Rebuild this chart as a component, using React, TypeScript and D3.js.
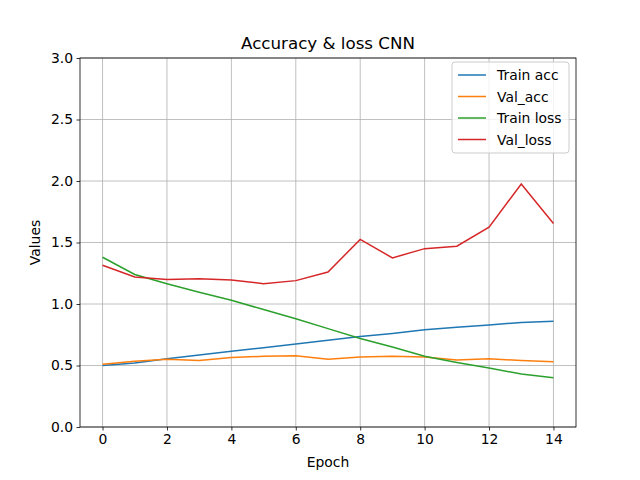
import React, { useEffect, useRef } from 'react';
import * as d3 from 'd3';

const epochs = [0, 1, 2, 3, 4, 5, 6, 7, 8, 9, 10, 11, 12, 13, 14];
const trainAcc = [0.50, 0.52, 0.555, 0.585, 0.615, 0.645, 0.675, 0.705, 0.735, 0.76, 0.79, 0.81, 0.83, 0.85, 0.86];
const valAcc = [0.51, 0.535, 0.55, 0.54, 0.565, 0.575, 0.58, 0.55, 0.57, 0.575, 0.57, 0.545, 0.555, 0.54, 0.53];
const trainLoss = [1.38, 1.24, 1.165, 1.095, 1.03, 0.955, 0.88, 0.80, 0.72, 0.65, 0.575, 0.525, 0.48, 0.43, 0.40];
const valLoss = [1.315, 1.22, 1.20, 1.205, 1.195, 1.165, 1.19, 1.26, 1.525, 1.375, 1.45, 1.47, 1.625, 1.975, 1.655];
const xTicks = [0, 2, 4, 6, 8, 10, 12, 14];
const yTicks = [0, 0.5, 1, 1.5, 2, 2.5, 3];

const series = [
  { name: 'Train acc', values: trainAcc, color: '#1f77b4' },
  { name: 'Val_acc', values: valAcc, color: '#ff7f0e' },
  { name: 'Train loss', values: trainLoss, color: '#2ca02c' },
  { name: 'Val_loss', values: valLoss, color: '#d62728' },
];

const App: React.FC = () => {
  const ref = useRef<SVGSVGElement | null>(null);

  useEffect(() => {
    document.body.style.margin = '0';
    const svg = d3.select(ref.current);
    svg.selectAll('*').remove();
    const font = 'DejaVu Sans';
    const left = 80, right = 576, top = 58, bottom = 427;

    const x = d3.scaleLinear().domain([-0.7, 14.7]).range([left, right]);
    const y = d3.scaleLinear().domain([0, 3]).range([bottom, top]);

    const g = svg.append('g');
    // grid
    xTicks.forEach(t => g.append('line').attr('x1', x(t)).attr('x2', x(t)).attr('y1', top).attr('y2', bottom)
      .attr('stroke', '#b0b0b0').attr('stroke-width', 0.8));
    yTicks.forEach(t => g.append('line').attr('x1', left).attr('x2', right).attr('y1', y(t)).attr('y2', y(t))
      .attr('stroke', '#b0b0b0').attr('stroke-width', 0.8));

    const line = d3.line<number>().x((_, i) => x(epochs[i])).y(d => y(d));
    series.forEach(s => g.append('path').datum(s.values).attr('d', line).attr('fill', 'none')
      .attr('stroke', s.color).attr('stroke-width', 1.5));

    g.append('rect').attr('x', left).attr('y', top).attr('width', right - left).attr('height', bottom - top)
      .attr('fill', 'none').attr('stroke', '#000').attr('stroke-width', 0.8);

    const xAxis = g.append('g').attr('transform', `translate(0,${bottom})`)
      .call(d3.axisBottom(x).tickValues(xTicks).tickSize(3.5).tickPadding(3.5).tickFormat(d3.format('d')));
    const yAxis = g.append('g').attr('transform', `translate(${left},0)`)
      .call(d3.axisLeft(y).tickValues(yTicks).tickSize(3.5).tickPadding(3.5).tickFormat(d3.format('.1f')));
    [xAxis, yAxis].forEach(a => {
      a.select('.domain').remove();
      a.selectAll('text').attr('font-family', font).attr('font-size', 13.9).attr('fill', '#000');
      a.selectAll('line').attr('stroke', '#000').attr('stroke-width', 0.8);
    });

    g.append('text').attr('x', (left + right) / 2).attr('y', 49).attr('text-anchor', 'middle')
      .attr('font-family', font).attr('font-size', 16.7).text('Accuracy & loss CNN');
    g.append('text').attr('x', (left + right) / 2).attr('y', 467).attr('text-anchor', 'middle')
      .attr('font-family', font).attr('font-size', 13.9).text('Epoch');
    g.append('text').attr('transform', `translate(40,${(top + bottom) / 2}) rotate(-90)`).attr('text-anchor', 'middle')
      .attr('font-family', font).attr('font-size', 13.9).text('Values');

    const lg = g.append('g');
    lg.append('rect').attr('x', 452).attr('y', 62).attr('width', 117).attr('height', 91).attr('rx', 3)
      .attr('fill', '#fff').attr('fill-opacity', 0.8).attr('stroke', '#ccc');
    series.forEach((s, i) => {
      const cy = 75 + i * 21.5;
      lg.append('line').attr('x1', 458).attr('x2', 486).attr('y1', cy).attr('y2', cy)
        .attr('stroke', s.color).attr('stroke-width', 1.5);
      lg.append('text').attr('x', 497).attr('y', cy + 5).attr('font-family', font).attr('font-size', 13.9).text(s.name);
    });
  }, []);

  return <svg ref={ref} width={640} height={480} style={{ display: 'block', background: '#fff' }} />;
};

export default App;
